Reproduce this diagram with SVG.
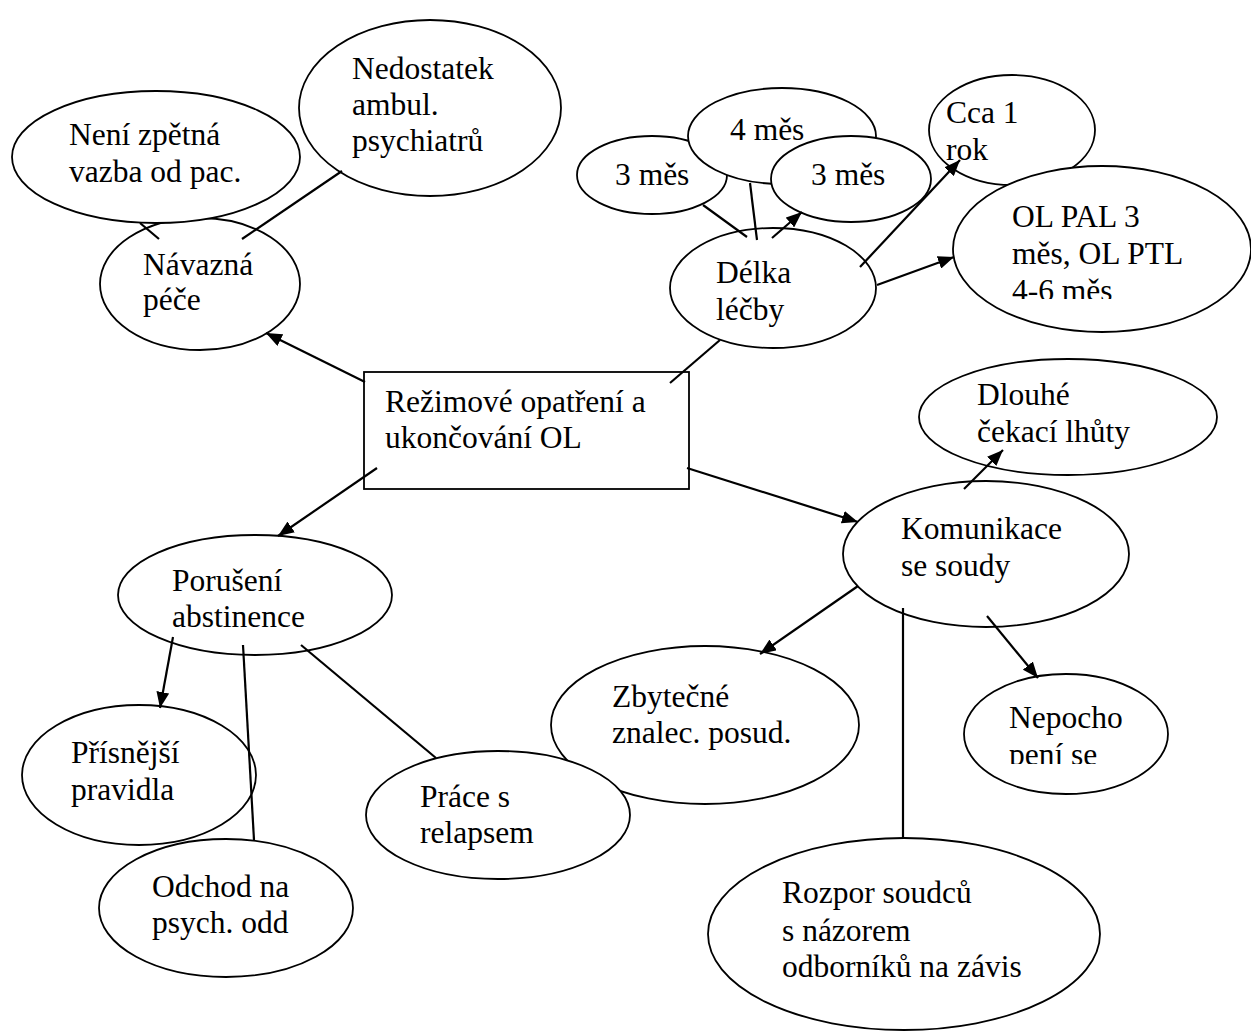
<svg xmlns="http://www.w3.org/2000/svg" width="1251" height="1032" viewBox="0 0 1251 1032">
  <style>
    .node ellipse, .node rect { fill: #ffffff; stroke: #000000; stroke-width: 1.8; }
    .node text { font-family: "Liberation Serif", "Times New Roman", serif; font-size: 31.5px; fill: #000000; }
    .edge { stroke: #000000; stroke-width: 2.2; fill: none; }
    .arrow { marker-end: url(#head); }
  </style>
  <defs>
    <marker id="head" markerUnits="userSpaceOnUse" markerWidth="17" markerHeight="13" refX="16" refY="6.5" orient="auto">
      <path d="M0,0 L16,6.5 L0,13 z" fill="#000000"/>
    </marker>
    <!-- text boxes that cut their last line -->
    <clipPath id="clipOlPal"><rect x="1000" y="180" width="240" height="119"/></clipPath>
    <clipPath id="clipNepo"><rect x="990" y="690" width="170" height="74"/></clipPath>
  </defs>
  <rect width="1251" height="1032" fill="#ffffff"/>

  <g id="navazna-pece" class="node">
    <ellipse cx="200" cy="284" rx="100" ry="66"/>
    <text x="143" y="275">Návazná</text>
    <text x="143" y="310">péče</text>
  </g>
  <g id="neni-zpetna-vazba" class="node">
    <ellipse cx="156" cy="157" rx="144" ry="66"/>
    <text x="69" y="145">Není zpětná</text>
    <text x="69" y="182">vazba od pac.</text>
  </g>
  <g id="nedostatek-psychiatru" class="node">
    <ellipse cx="430" cy="108" rx="131" ry="88"/>
    <text x="352" y="79">Nedostatek</text>
    <text x="352" y="115">ambul.</text>
    <text x="352" y="151">psychiatrů</text>
  </g>

  <g id="delka-3mes-a" class="node">
    <ellipse cx="652" cy="175" rx="75" ry="39"/>
    <text x="615" y="185">3 měs</text>
  </g>
  <g id="delka-4mes" class="node">
    <ellipse cx="782" cy="136" rx="94" ry="48"/>
    <text x="730" y="140">4 měs</text>
  </g>
  <g id="delka-3mes-b" class="node">
    <ellipse cx="851" cy="179" rx="80" ry="43"/>
    <text x="811" y="185">3 měs</text>
  </g>
  <g id="delka-lecby" class="node">
    <ellipse cx="773" cy="288" rx="103" ry="60"/>
    <text x="716" y="283">Délka</text>
    <text x="716" y="320">léčby</text>
  </g>
  <g id="cca-1-rok" class="node">
    <ellipse cx="1012" cy="130" rx="83" ry="55"/>
    <text x="946" y="123">Cca 1</text>
    <text x="946" y="160">rok</text>
  </g>
  <g id="ol-pal-ptl" class="node">
    <ellipse cx="1102" cy="249" rx="149" ry="83"/>
    <g clip-path="url(#clipOlPal)">
      <text x="1012" y="227">OL PAL 3</text>
      <text x="1012" y="264">měs, OL PTL</text>
      <text x="1012" y="301">4-6 měs</text>
    </g>
  </g>

  <g id="rezimove-opatreni" class="node">
    <rect x="364" y="372" width="325" height="117"/>
    <text x="385" y="412">Režimové opatření a</text>
    <text x="385" y="448">ukončování OL</text>
  </g>

  <g id="dlouhe-lhuty" class="node">
    <ellipse cx="1068" cy="417" rx="149" ry="58"/>
    <text x="977" y="405">Dlouhé</text>
    <text x="977" y="442">čekací lhůty</text>
  </g>
  <g id="komunikace-soudy" class="node">
    <ellipse cx="986" cy="554" rx="143" ry="73"/>
    <text x="901" y="539">Komunikace</text>
    <text x="901" y="576">se soudy</text>
  </g>

  <g id="poruseni-abstinence" class="node">
    <ellipse cx="255" cy="595" rx="137" ry="60"/>
    <text x="172" y="591">Porušení</text>
    <text x="172" y="627">abstinence</text>
  </g>
  <g id="prisnejsi-pravidla" class="node">
    <ellipse cx="139" cy="775" rx="117" ry="70"/>
    <text x="71" y="763">Přísnější</text>
    <text x="71" y="800">pravidla</text>
  </g>
  <g id="odchod-psych" class="node">
    <ellipse cx="226" cy="908" rx="127" ry="69"/>
    <text x="152" y="897">Odchod na</text>
    <text x="152" y="933">psych. odd</text>
  </g>

  <g id="zbytecne-posudky" class="node">
    <ellipse cx="705" cy="725" rx="154" ry="79"/>
    <text x="612" y="707">Zbytečné</text>
    <text x="612" y="743">znalec. posud.</text>
  </g>
  <g id="prace-s-relapsem" class="node">
    <ellipse cx="498" cy="815" rx="132" ry="64"/>
    <text x="420" y="807">Práce s</text>
    <text x="420" y="843">relapsem</text>
  </g>
  <g id="nepochopeni" class="node">
    <ellipse cx="1066" cy="734" rx="102" ry="60"/>
    <g clip-path="url(#clipNepo)">
      <text x="1009" y="728">Nepocho</text>
      <text x="1009" y="765">pení se</text>
    </g>
  </g>
  <g id="rozpor-soudcu" class="node">
    <ellipse cx="904" cy="934" rx="196" ry="96"/>
    <text x="782" y="903">Rozpor soudců</text>
    <text x="782" y="941">s názorem</text>
    <text x="782" y="977">odborníků na závis</text>
  </g>

  <g id="connectors">
    <line class="edge arrow" x1="365" y1="382" x2="266" y2="333"/>
    <line class="edge" x1="159" y1="239" x2="140" y2="223"/>
    <line class="edge" x1="242" y1="239" x2="342" y2="171"/>

    <line class="edge" x1="670" y1="383" x2="720" y2="340"/>
    <line class="edge" x1="747" y1="237" x2="703" y2="205"/>
    <line class="edge" x1="757" y1="240" x2="750" y2="183"/>
    <line class="edge arrow" x1="772" y1="238" x2="802" y2="212"/>
    <line class="edge arrow" x1="860" y1="267" x2="960" y2="160"/>
    <line class="edge arrow" x1="877" y1="285" x2="954" y2="257"/>

    <line class="edge arrow" x1="687" y1="468" x2="858" y2="522"/>
    <line class="edge arrow" x1="964" y1="489" x2="1003" y2="450"/>
    <line class="edge arrow" x1="858" y1="586" x2="760" y2="654"/>
    <line class="edge" x1="903" y1="608" x2="903" y2="838"/>
    <line class="edge arrow" x1="987" y1="616" x2="1038" y2="678"/>

    <line class="edge arrow" x1="377" y1="468" x2="278" y2="536"/>
    <line class="edge arrow" x1="173" y1="637" x2="160" y2="708"/>
    <line class="edge" x1="243" y1="645" x2="254" y2="840"/>
    <line class="edge" x1="301" y1="645" x2="436" y2="758"/>
  </g>
</svg>
